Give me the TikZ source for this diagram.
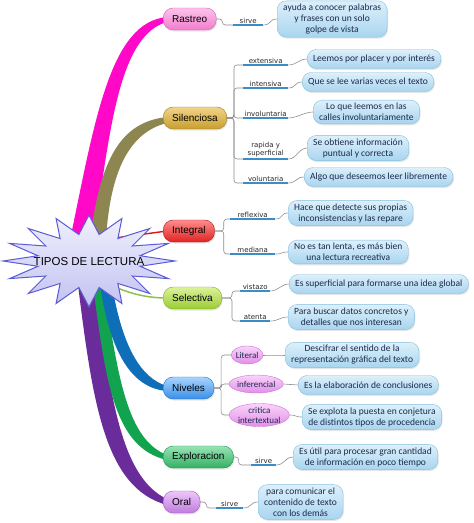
\documentclass[tikz,border=0pt]{standalone}
\usepackage{fontspec}
\setmainfont{Liberation Sans}
\newfontfamily\boxfont{Carlito}
\newfontfamily\lblfont{DejaVu Sans}
\usetikzlibrary{calc,shapes.geometric,shadows}

\definecolor{brmag}{HTML}{FF08C8}
\definecolor{brolive}{HTML}{8E8650}
\definecolor{brblue}{HTML}{0E6FB8}
\definecolor{brgreen}{HTML}{12A34E}
\definecolor{brpurple}{HTML}{6A2C9A}
\definecolor{brred}{HTML}{D81818}
\definecolor{brlime}{HTML}{8CC04A}
\definecolor{starT}{HTML}{F0F0FE}
\definecolor{starB}{HTML}{C2C2F0}
\definecolor{starD}{HTML}{5B5BD6}
\definecolor{rasT}{HTML}{FCC4EA}\definecolor{rasB}{HTML}{F27CCE}\definecolor{rasD}{HTML}{D85AB2}
\definecolor{silT}{HTML}{F2D488}\definecolor{silB}{HTML}{C89E2E}\definecolor{silD}{HTML}{A07E1E}
\definecolor{intT}{HTML}{FF8C8C}\definecolor{intB}{HTML}{E02424}\definecolor{intD}{HTML}{B01414}
\definecolor{selT}{HTML}{DCF29A}\definecolor{selB}{HTML}{9ACC34}\definecolor{selD}{HTML}{80B024}
\definecolor{nivT}{HTML}{A8D4FF}\definecolor{nivB}{HTML}{3A8EE8}\definecolor{nivD}{HTML}{2070C8}
\definecolor{expT}{HTML}{98E4B6}\definecolor{expB}{HTML}{32B062}\definecolor{expD}{HTML}{1F9050}
\definecolor{oraT}{HTML}{EEC6FA}\definecolor{oraB}{HTML}{C07CE0}\definecolor{oraD}{HTML}{A05AC0}
\definecolor{lvlT}{HTML}{FAD4FA}\definecolor{lvlB}{HTML}{E28EE8}\definecolor{lvlD}{HTML}{C874D4}
\definecolor{boxT}{HTML}{DDF0FB}
\definecolor{boxB}{HTML}{A9D5EF}
\definecolor{boxD}{HTML}{84BEDF}
\definecolor{boxtext}{HTML}{1B2A4C}
\definecolor{linkgray}{HTML}{8C8C8C}
\definecolor{ulblue}{HTML}{3C8CC8}

\tikzset{
  main/.style n args={3}{rounded corners=10pt, minimum height=22pt, inner xsep=9pt,
    top color=#1, bottom color=#2, draw=#3, anchor=west,
    font=\fontsize{10}{12}\selectfont,
    drop shadow={opacity=.2,shadow xshift=1pt,shadow yshift=-1.5pt}},
  info/.style={rounded corners=9pt, draw=boxD, top color=boxT, bottom color=boxB,
    text=boxtext, font=\boxfont\fontsize{9.5}{11}\selectfont, align=center,
    inner xsep=6pt, inner ysep=3pt, minimum height=19pt, anchor=west,
    drop shadow={opacity=.2,shadow xshift=1pt,shadow yshift=-1.5pt}},
  lvl/.style={ellipse, draw=lvlD, top color=lvlT, bottom color=lvlB, inner sep=0pt,
    minimum height=18pt, anchor=west, align=center, text=boxtext,
    font=\boxfont\fontsize{9}{10}\selectfont},
  sublbl/.style={anchor=south west, text width=#1, align=center, inner xsep=1.5pt,
    inner ysep=1.5pt, font=\lblfont\fontsize{7}{8}\selectfont, text=black!85},
  uline/.style={ulblue, line width=1.6pt},
  link/.style={linkgray, line width=.6pt, rounded corners=3pt},
  starline/.style={draw=starD, line width=1pt, top color=starT, bottom color=starB}
}

\begin{document}
\begin{tikzpicture}[x=1pt,y=-1pt]
\useasboundingbox (0,0) rectangle (474,523);

\coordinate (rasW) at (163,19);
\coordinate (silW) at (163,118);
\coordinate (intW) at (163,231);
\coordinate (selW) at (163,298);
\coordinate (nivW) at (163,388);
\coordinate (expW) at (163,457);
\coordinate (oraW) at (163,502);

% branches
\fill[brmag] (70,240) .. controls (95,120) and (110,22) .. ($(rasW)+(4,-2)$)
  -- ($(rasW)+(4,3)$) .. controls (120,35) and (110,125) .. (94,240) -- cycle;
\fill[brolive] (90,240) .. controls (100,160) and (120,122) .. ($(silW)+(4,-1)$)
  -- ($(silW)+(4,5)$) .. controls (130,132) and (110,170) .. (106,240) -- cycle;
\fill[brpurple] (78,285) .. controls (93,405) and (105,488) .. ($(oraW)+(4,3)$)
  -- ($(oraW)+(4,-3)$) .. controls (122,478) and (110,400) .. (96,285) -- cycle;
\fill[brgreen] (93,285) .. controls (106,385) and (115,448) .. ($(expW)+(4,3)$)
  -- ($(expW)+(4,-2)$) .. controls (128,440) and (118,380) .. (104,285) -- cycle;
\fill[brblue] (100,285) .. controls (110,350) and (130,388) .. ($(nivW)+(4,3)$)
  -- ($(nivW)+(4,-2)$) .. controls (140,378) and (122,345) .. (112,285) -- cycle;
\draw[brred, line width=1.4pt] (100,240) -- ($(intW)+(4,0)$);
\draw[brlime, line width=1.5pt] (100,280) .. controls (120,290) and (140,298) .. ($(selW)+(4,0)$);

% star
\draw[starline] plot[samples=33, domain=0:360, variable=\t]
  ({89+(86-34*mod(round(\t/11.25),2))*cos(\t)},{261+(46-19*mod(round(\t/11.25),2))*sin(\t)}) -- cycle;
\node[font=\fontsize{11.5}{14}\selectfont] (root) at (89,262) {TIPOS DE LECTURA};

% topics
\node[main={rasT}{rasB}{rasD}] (ras) at (rasW) {Rastreo};
\node[main={silT}{silB}{silD}] (sil) at (silW) {Silenciosa};
\node[main={intT}{intB}{intD}] (intg) at (intW) {Integral};
\node[main={selT}{selB}{selD}] (sel) at (selW) {Selectiva};
\node[main={nivT}{nivB}{nivD}] (niv) at (nivW) {Niveles};
\node[main={expT}{expB}{expD}] (expl) at (expW) {Exploracion};
\node[main={oraT}{oraB}{oraD}] (oral) at (oraW) {Oral};

% labels
\node[sublbl=27pt] (sr1) at (233,25) {sirve};
\node[sublbl=42pt] (ext) at (243,65) {extensiva};
\node[sublbl=42pt] (inten) at (243,88) {intensiva};
\node[sublbl=42pt] (invol) at (243,118) {involuntaria};
\node[sublbl=42pt] (rapi) at (243,159) {rapida y\\superficial};
\node[sublbl=42pt] (volu) at (243,183) {voluntaria};
\node[sublbl=42pt] (refl) at (230,219) {reflexiva};
\node[sublbl=42pt] (medi) at (230,254) {mediana};
\node[sublbl=27pt] (vist) at (240,291) {vistazo};
\node[sublbl=27pt] (aten) at (240,321) {atenta};
\node[sublbl=22pt] (sr2) at (251,465) {sirve};
\node[sublbl=24pt] (sr3) at (216,508) {sirve};
\foreach \n in {sr1,ext,inten,invol,rapi,volu,refl,medi,vist,aten,sr2,sr3}
  \draw[uline] (\n.south west) -- (\n.south east);

\node[lvl] (lit) at (231,355) {Literal};
\node[lvl] (inf) at (229,384) {inferencial};
\node[lvl] (cri) at (229,415) {critica\\intertextual};

% boxes
\node[info] (bras) at (277,19) {ayuda a conocer palabras\\y frases con un solo\\golpe de vista};
\node[info] (bext) at (307,59) {Leemos por placer y por interés};
\node[info] (bint) at (302,82) {Que se lee varias veces el texto};
\node[info] (binv) at (313,112) {Lo que leemos en las\\calles involuntariamente};
\node[info] (brap) at (307,148) {Se obtiene información\\puntual y correcta};
\node[info] (bvol) at (304,177) {Algo que deseemos leer libremente};
\node[info] (bref) at (288,213) {Hace que detecte sus propias\\inconsistencias y las repare};
\node[info] (bmed) at (288,252) {No es tan lenta, es más bien\\una lectura recreativa};
\node[info] (bvis) at (289,284) {Es superficial para formarse una idea global};
\node[info] (bate) at (288,317) {Para buscar datos concretos y\\detalles que nos interesan};
\node[info] (blit) at (285,355) {Descifrar el sentido de la\\representación gráfica del texto};
\node[info] (binf) at (298,385) {Es la elaboración de conclusiones};
\node[info] (bcri) at (302,417) {Se explota la puesta en conjetura\\de distintos tipos de procedencia};
\node[info] (bexp) at (293,457) {Es útil para procesar gran cantidad\\de información en poco tiempo};
\node[info] (bora) at (258,502) {para comunicar el\\contenido de texto\\con los demás};

% links
\draw[link] (ras.east) -- ++(6,0) |- (sr1.south west);
\foreach \n in {ext,inten,invol,rapi,volu}
  \draw[link] (sil.east) -- ++(7,0) |- (\n.south west);
\foreach \n in {refl,medi}
  \draw[link] (intg.east) -- ++(9,0) |- (\n.south west);
\foreach \n in {vist,aten}
  \draw[link] (sel.east) -- ++(10,0) |- (\n.south west);
\foreach \n in {lit,inf,cri}
  \draw[link] (niv.east) -- ++(7,0) |- (\n.west);
\draw[link] (expl.east) -- ++(5,0) |- (sr2.south west);
\draw[link] (oral.east) -- ++(6,0) |- (sr3.south west);
\foreach \a/\b in {sr1/bras,ext/bext,inten/bint,invol/binv,rapi/brap,volu/bvol,
    refl/bref,medi/bmed,vist/bvis,aten/bate,sr2/bexp,sr3/bora}
  \draw[link] (\a.south east) .. controls +(8,0) and +(-8,0) .. (\b.west);
\foreach \a/\b in {lit/blit,inf/binf,cri/bcri}
  \draw[link] (\a.east) .. controls +(8,0) and +(-8,0) .. (\b.west);

\end{tikzpicture}
\end{document}
